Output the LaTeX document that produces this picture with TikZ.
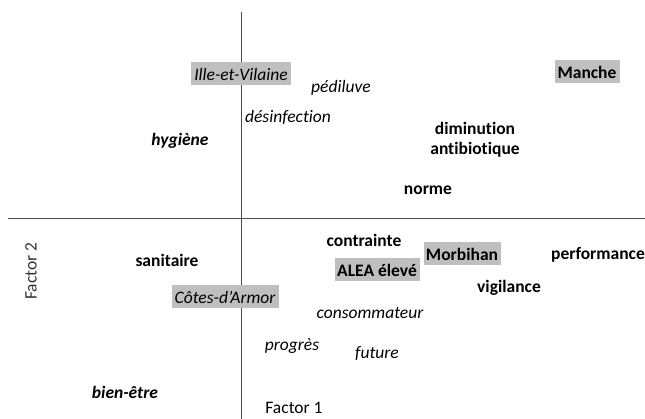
\documentclass[tikz,border=0pt]{standalone}
\usepackage{fontspec}
\setmainfont{Carlito}[Ligatures=NoCommon]
\begin{document}
\begin{tikzpicture}[x=1pt,y=-1pt,
  lbl/.style={inner sep=1.5pt,font=\fontsize{17.5}{20}\selectfont},
  bl/.style={lbl,font=\fontsize{17.5}{20}\selectfont\bfseries},
  it/.style={lbl,font=\fontsize{17.5}{20}\selectfont\itshape},
  bi/.style={lbl,font=\fontsize{17.5}{20}\selectfont\bfseries\itshape},
  hl/.style={fill=black!25,minimum height=23pt},
  axis/.style={draw=black!70,line width=0.8pt}]
\useasboundingbox (0,0) rectangle (645,419);
\coordinate (vtop) at (241,12);
\coordinate (vbot) at (241,419);
\coordinate (hl) at (8,218);
\coordinate (hr) at (645,218);
\draw[axis] (vtop) -- (vbot);
\draw[axis] (hl) -- (hr);
\node[it,hl,minimum width=100pt] (ille) at (241,74) {Ille-et-Vilaine};
\node[it] (pedi) at (341,88) {pédiluve};
\node[it] (desi) at (288,117) {désinfection};
\node[bi] (hyg) at (180,141) {hygiène};
\node[bl,hl,minimum width=65pt] (manche) at (587,72) {Manche};
\node[bl,align=center] (dimi) at (475,140) {diminution\\antibiotique};
\node[bl] (norme) at (428,190) {norme};
\node[bl] (contr) at (364,240) {contrainte};
\node[bl,hl,minimum width=77pt] (morb) at (462,254) {Morbihan};
\node[bl] (perf) at (598,255) {performance};
\node[bl,hl,minimum width=85pt] (alea) at (377,270) {ALEA élevé};
\node[bl] (vigi) at (509,288) {vigilance};
\node[bl] (sani) at (167,260) {sanitaire};
\node[it,hl,minimum width=107pt] (cotes) at (225,297) {Côtes-d’Armor};
\node[it] (conso) at (370,313) {consommateur};
\node[it] (prog) at (292,346) {progrès};
\node[it] (fut) at (377,354) {future};
\node[bi] (bien) at (125,392) {bien-être};
\node[lbl,fill=white,inner sep=2pt] (f1) at (294,408) {Factor 1};
\node[lbl,rotate=90,text=black!80] (f2) at (31,271) {Factor 2};
\end{tikzpicture}
\end{document}
